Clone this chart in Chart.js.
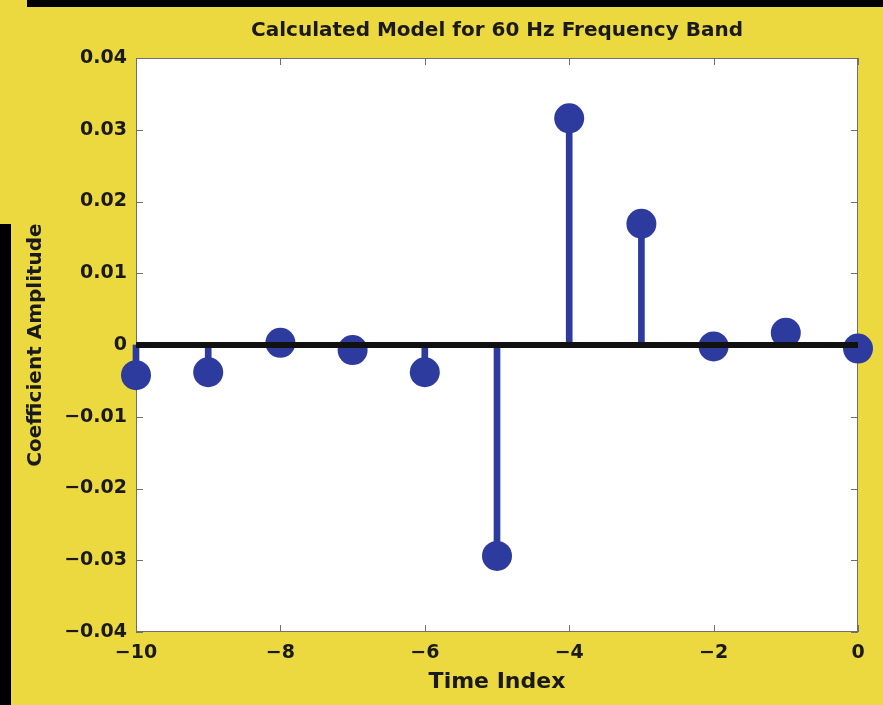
<!DOCTYPE html>
<html>
<head>
<meta charset="utf-8">
<title>Calculated Model for 60 Hz Frequency Band</title>
<script src="https://cdn.jsdelivr.net/npm/chart.js@4.4.1/dist/chart.umd.min.js"></script>
<style>
  html, body { margin: 0; padding: 0; background: #ecd940; }
  #wrap { position: relative; width: 883px; height: 705px; overflow: hidden; }
  #topBar { position: absolute; left: 27px; top: 0; width: 856px; height: 7px; background: #000; }
  #sideBar { position: absolute; left: 0; top: 224px; width: 11px; height: 481px; background: #000; }
  canvas { position: absolute; left: 0; top: 0; }
</style>
</head>
<body>
<div id="wrap">
  <canvas id="stemChart" width="883" height="705"></canvas>
  <div id="topBar"></div>
  <div id="sideBar"></div>
</div>
<script>
// ---------------- DATA ----------------
const timeIndex = [-10, -9, -8, -7, -6, -5, -4, -3, -2, -1, 0];
const coefficients = [-0.0042, -0.0038, 0.0003, -0.0007, -0.0038, -0.0294, 0.0316, 0.0169, -0.0002, 0.0017, -0.0005];
const xTicks = [-10, -8, -6, -4, -2, 0];
const yTicks = [-0.04, -0.03, -0.02, -0.01, 0, 0.01, 0.02, 0.03, 0.04];

const stemBlue = "#2d3a9e";
const frameGrey = "#6f6f6f";
const textColor = "#1a1a1a";
const family = "DejaVu Sans, Liberation Sans, sans-serif";
const labelFont = { family, size: 19, weight: "bold" };

function minusLabel(v, digits) {
  if (Math.abs(v) < 1e-9) return "0";
  const s = Math.abs(v).toFixed(digits);
  return v < 0 ? "\u2212" + s : s;
}

// white plot box, grey frame and inward ticks on all four sides
const frameBox = {
  id: "frameBox",
  beforeDraw(chart) {
    const { ctx, chartArea: a } = chart;
    ctx.save();
    ctx.fillStyle = "#ffffff";
    ctx.fillRect(a.left, a.top, a.right - a.left, a.bottom - a.top);
    ctx.restore();
  },
  beforeDatasetsDraw(chart) {
    const { ctx, chartArea: a, scales } = chart;
    ctx.save();
    ctx.strokeStyle = frameGrey;
    ctx.lineWidth = 1;
    ctx.strokeRect(a.left + 0.5, a.top + 0.5, a.right - a.left - 1, a.bottom - a.top - 1);
    ctx.beginPath();
    xTicks.forEach(v => {
      const px = Math.round(scales.x.getPixelForValue(v)) + 0.5;
      ctx.moveTo(px, a.bottom); ctx.lineTo(px, a.bottom - 7);
      ctx.moveTo(px, a.top); ctx.lineTo(px, a.top + 7);
    });
    yTicks.forEach(v => {
      const py = Math.round(scales.y.getPixelForValue(v)) + 0.5;
      ctx.moveTo(a.left, py); ctx.lineTo(a.left + 7, py);
      ctx.moveTo(a.right, py); ctx.lineTo(a.right - 7, py);
    });
    ctx.stroke();
    ctx.restore();
  }
};

// ---------------- CHART ----------------
const points = timeIndex.map((t, i) => ({ x: t, y: coefficients[i] }));
const ctx = document.getElementById("stemChart").getContext("2d");
new Chart(ctx, {
  type: "bar",
  data: {
    datasets: [
      {
        type: "line",
        label: "baseline",
        xAxisID: "x",
        yAxisID: "y",
        data: [{ x: timeIndex[0], y: 0 }, { x: timeIndex[timeIndex.length - 1], y: 0 }],
        borderColor: "#111111",
        borderWidth: 6,
        pointRadius: 0,
        order: 0
      },
      {
        type: "scatter",
        label: "markers",
        xAxisID: "x",
        yAxisID: "y",
        data: points,
        backgroundColor: stemBlue,
        borderColor: stemBlue,
        pointRadius: 15,
        borderWidth: 0,
        clip: false,
        order: 1
      },
      {
        type: "bar",
        label: "stems",
        xAxisID: "x",
        yAxisID: "y",
        data: points,
        backgroundColor: stemBlue,
        barThickness: 6,
        clip: false,
        order: 2
      }
    ]
  },
  options: {
    responsive: false,
    animation: false,
    layout: { padding: { top: 0, right: 25, bottom: 0, left: 0 } },
    plugins: {
      legend: { display: false },
      tooltip: { enabled: false }
    },
    scales: {
      x: {
        type: "linear",
        min: -10,
        max: 0,
        offset: false,
        grid: { display: false, drawTicks: false },
        border: { display: false },
        afterBuildTicks: scale => { scale.ticks = xTicks.map(v => ({ value: v })); },
        afterFit: scale => { scale.height = 73; },
        ticks: {
          autoSkip: false,
          maxRotation: 0,
          padding: 10,
          color: textColor,
          font: labelFont,
          callback: v => minusLabel(v, 0)
        },
        title: {
          display: true,
          text: "Time Index",
          color: textColor,
          font: { family, size: 22, weight: "bold" },
          padding: { top: 0, bottom: 10 }
        }
      },
      y: {
        min: -0.04,
        max: 0.04,
        grid: { display: false, drawTicks: false },
        border: { display: false },
        afterBuildTicks: scale => { scale.ticks = yTicks.map(v => ({ value: v })); },
        afterFit: scale => { scale.width = 136; },
        ticks: {
          autoSkip: false,
          padding: 9,
          color: textColor,
          font: labelFont,
          callback: v => minusLabel(v, 2)
        },
        title: {
          display: true,
          text: "Coefficient Amplitude",
          color: textColor,
          font: { family, size: 20, weight: "bold" },
          padding: { top: 24, bottom: 0 }
        }
      },
      // top axis only carries the chart title, centred over the plot box
      xTop: {
        type: "linear",
        position: "top",
        min: -10,
        max: 0,
        offset: false,
        grid: { display: false, drawTicks: false },
        border: { display: false },
        ticks: { display: false },
        afterFit: scale => { scale.height = 58; },
        title: {
          display: true,
          text: "Calculated Model for 60 Hz Frequency Band",
          color: textColor,
          font: { family, size: 20, weight: "bold" },
          padding: { top: 19, bottom: 0 }
        }
      }
    }
  },
  plugins: [frameBox]
});
</script>
</body>
</html>
